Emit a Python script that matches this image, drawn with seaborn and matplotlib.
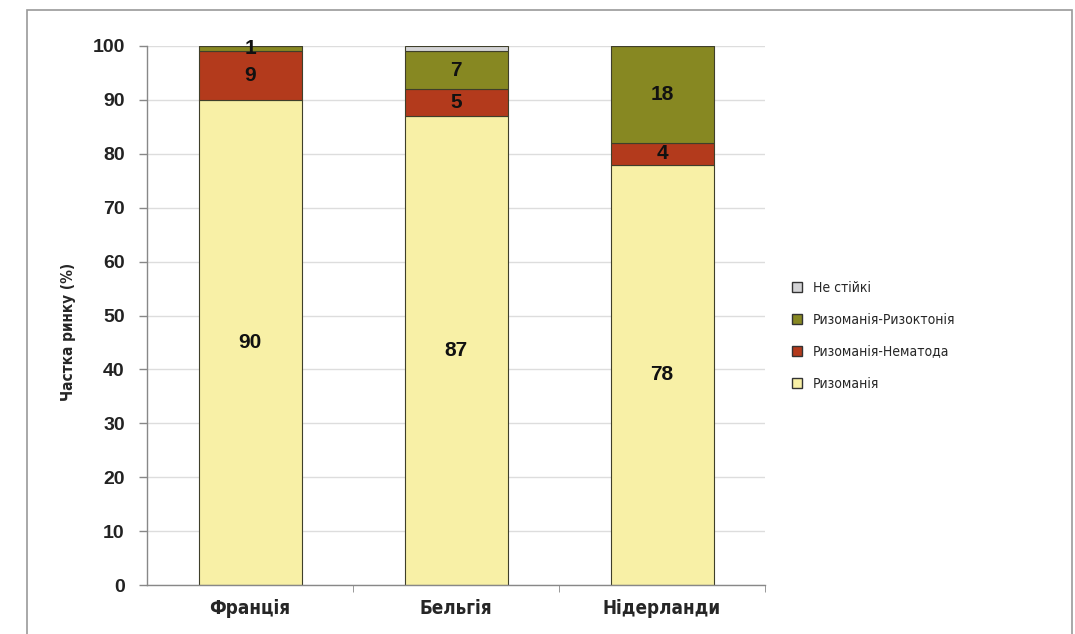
import matplotlib
matplotlib.use('Agg')
import matplotlib.pyplot as plt
import seaborn as sns
import pandas as pd
import numpy as np
from matplotlib.patches import Rectangle
from matplotlib.lines import Line2D

# ── DATA ──────────────────────────────────────────────────────
countries = ['Франція', 'Бельгія', 'Нідерланди']
series = ['Ризоманія', 'Ризоманія-Нематода', 'Ризоманія-Ризоктонія', 'Не стійкі']
rhizomania = [90, 87, 78]
nematode = [9, 5, 4]
rhizoctonia = [1, 7, 18]
not_resistant = [0, 1, 0]
y_ticks = list(range(0, 101, 10))

values = [rhizomania, nematode, rhizoctonia, not_resistant]
colors = ['#F8F0A6', '#B33A1C', '#878822', '#D4D4D6']

narrow = ['DejaVu Sans']

sns.set_style('white')
plt.rcParams['font.family'] = ['Liberation Sans', 'DejaVu Sans']

fig = plt.figure(figsize=(10.75, 6.34), dpi=100)
ax = fig.add_axes([147/1075, 1-585/634, (765-147)/1075, (585-46)/634])

bottom = np.zeros(len(countries))
for name, vals, c in zip(series, values, colors):
    df = pd.DataFrame({'country': countries, 'value': vals})
    sns.barplot(data=df, x='country', y='value', color=c, width=0.5,
                bottom=bottom, edgecolor='#3f3f2a', linewidth=0.8,
                saturation=1, ax=ax, label=name)
    for i, v in enumerate(vals):
        if v > 0 and name != 'Не стійкі':
            ax.text(i, bottom[i] + v/2, f'{v}', ha='center', va='center',
                    fontsize=15, fontweight='bold', color='#111111')
    bottom += np.array(vals)

ax.set_xlim(-0.5, 2.5)
ax.set_ylim(0, 100)
ax.set_yticks(y_ticks)
ax.set_yticklabels([str(t) for t in y_ticks], fontsize=14, fontweight='bold',
                   color='#222222')
ax.yaxis.grid(True, color='#dddddd', lw=1)
ax.set_axisbelow(True)
ax.tick_params(axis='y', direction='out', length=6, width=1, color='#888888',
               left=True, pad=10)
ax.set_xticks(range(3))
ax.set_xticklabels(countries, family=narrow, fontstretch='condensed',
                   fontsize=13.5, fontweight='bold')
ax.tick_params(axis='x', length=0, pad=10)
ax.set_xticks([0.5, 1.5, 2.5], minor=True)
ax.tick_params(axis='x', which='minor', direction='out', length=5,
               color='#888888', bottom=True)
ax.set_xlabel('')
ax.set_ylabel('Частка ринку (%)', family=narrow, fontstretch='condensed',
              fontsize=11, fontweight='bold')
ax.yaxis.set_label_coords(-0.115, 0.47)
for s in ['top', 'right']:
    ax.spines[s].set_visible(False)
for s in ['left', 'bottom']:
    ax.spines[s].set_color('#888888')
    ax.spines[s].set_linewidth(1)

if ax.get_legend():
    ax.get_legend().remove()
handles = [Line2D([], [], marker='s', ls='', markersize=7,
                  markerfacecolor=c, markeredgecolor='#333333', mew=1)
           for c in colors]
leg = fig.legend(handles[::-1], series[::-1], loc='center left',
                 bbox_to_anchor=(778/1075, 1-336/634), frameon=False,
                 prop={'family': narrow, 'size': 10, 'stretch': 'condensed'},
                 labelspacing=1.3, handletextpad=0.6, handlelength=1.0)

# outer frame of the picture
fig.patches.append(Rectangle((27/1075, -0.05), (1072-27)/1075, 1.05 - 10/634,
                             transform=fig.transFigure, fill=False,
                             edgecolor='#999999', lw=1.2))

fig.savefig('out.png', dpi=100)
